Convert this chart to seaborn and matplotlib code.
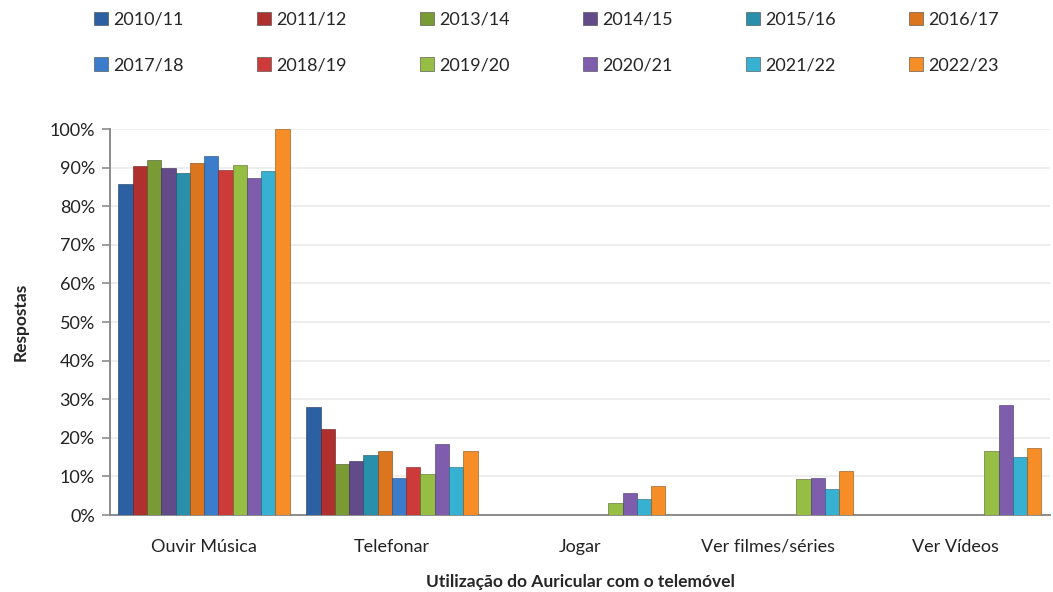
import numpy as np
import pandas as pd
import seaborn as sns
import matplotlib.pyplot as plt
from matplotlib.patches import Patch
from matplotlib.ticker import PercentFormatter, FixedLocator

# data (percent of answers)
categories = ['Ouvir Música', 'Telefonar', 'Jogar', 'Ver filmes/séries', 'Ver Vídeos']
years = ['2010/11', '2011/12', '2013/14', '2014/15', '2015/16', '2016/17',
         '2017/18', '2018/19', '2019/20', '2020/21', '2021/22', '2022/23']

ouvir_musica = [85.8, 90.3, 92.0, 89.8, 88.7, 91.2, 92.9, 89.4, 90.6, 87.2, 89.2, 100.0]
telefonar = [27.9, 22.3, 13.2, 13.9, 15.6, 16.5, 9.5, 12.4, 10.6, 18.4, 12.4, 16.5]
jogar = [np.nan] * 8 + [3.0, 5.8, 4.2, 7.5]
ver_filmes = [np.nan] * 8 + [9.3, 9.6, 6.7, 11.3]
ver_videos = [np.nan] * 8 + [16.7, 28.5, 15.0, 17.3]

colors = ['#2D60A3', '#B03030', '#7A9A36', '#634A88', '#2A8FAA', '#DB761E',
          '#3B7CCB', '#CC3A3A', '#97BE44', '#7E5DAC', '#36B1D2', '#F68D26']

values = [ouvir_musica, telefonar, jogar, ver_filmes, ver_videos]
rows = []
for cat, vals in zip(categories, values):
    for yr, v in zip(years, vals):
        rows.append({'categoria': cat, 'ano': yr, 'valor': v / 100})
df = pd.DataFrame(rows)

sns.set_style('white')
plt.rcParams['font.family'] = ['Lato', 'DejaVu Sans']

fig = plt.figure(figsize=(10.53, 5.92), dpi=100)
ax = fig.add_axes([0.1045, 0.13, 0.8925, 0.652])

sns.barplot(data=df, x='categoria', y='valor', hue='ano', order=categories,
            hue_order=years, palette=colors, width=0.91, ax=ax, legend=False,
            edgecolor='#333333', linewidth=0.4, saturation=1, zorder=3)

# darker edge per bar
for container, c in zip(ax.containers, colors):
    for bar in container:
        r, g, b = [int(c[i:i + 2], 16) / 255 for i in (1, 3, 5)]
        bar.set_edgecolor((r * 0.55, g * 0.55, b * 0.55))

ax.set_xlim(-0.5, len(categories) - 0.5)
ax.set_ylim(0, 1)
ax.yaxis.set_major_locator(FixedLocator(np.arange(0, 1.01, 0.1)))
ax.yaxis.set_major_formatter(PercentFormatter(1.0, decimals=0))
ax.grid(axis='y', color='#EBEBEB', linewidth=1.2, zorder=0)
ax.set_axisbelow(True)

ax.xaxis.set_minor_locator(FixedLocator(np.arange(-0.5, len(categories), 1)))
ax.tick_params(axis='x', which='major', length=0, pad=17, labelsize=13, labelcolor='#222222')
ax.tick_params(axis='x', which='minor', length=6, width=1.2, color='#8C8C8C', direction='out')
ax.tick_params(axis='y', length=6, width=1.2, color='#8C8C8C', direction='out', left=True,
               labelsize=13, labelcolor='#222222', pad=5)

for side in ['top', 'right']:
    ax.spines[side].set_visible(False)
for side in ['left', 'bottom']:
    ax.spines[side].set_color('#8C8C8C')
    ax.spines[side].set_linewidth(1.4)

ax.set_xlabel('Utilização do Auricular com o telemóvel', fontsize=12.5, fontweight='bold', labelpad=14)
ax.set_ylabel('Respostas', fontsize=12.5, fontweight='bold', labelpad=15)

# legend filled row by row (matplotlib fills columns first)
ncol = 6
order = [r * ncol + c for c in range(ncol) for r in range(2)]
handles = [Patch(facecolor=c, edgecolor='#444444', linewidth=0.4) for c in colors]
fig.legend([handles[i] for i in order], [years[i] for i in order], loc='upper left',
           ncol=ncol, mode='expand', bbox_to_anchor=(0.074, 1.008, 0.89, 0.0),
           frameon=False, fontsize=13, handlelength=0.75, handleheight=0.75,
           handletextpad=0.3, labelspacing=1.65)

fig.savefig('out.png', dpi=100)
